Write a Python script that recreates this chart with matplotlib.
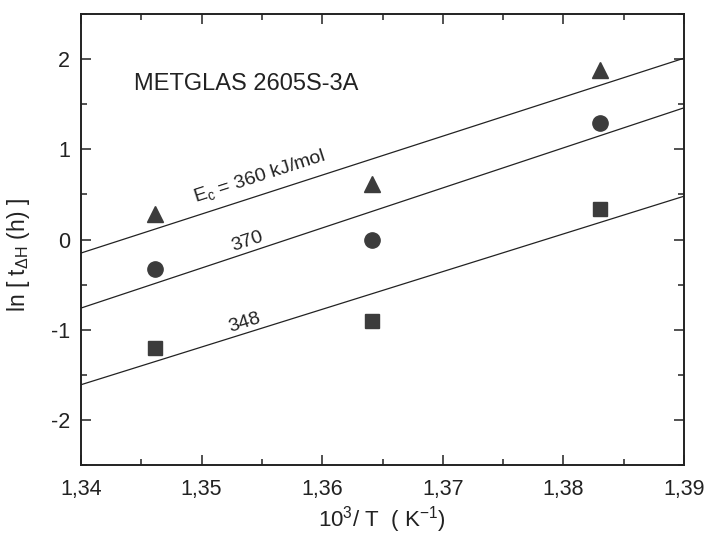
import numpy as np
import matplotlib
matplotlib.use("Agg")
import matplotlib.pyplot as plt
from matplotlib.ticker import MultipleLocator, FuncFormatter

plt.rcParams['font.family'] = ['Liberation Sans', 'DejaVu Sans']
plt.rcParams['mathtext.fontset'] = 'custom'
plt.rcParams['mathtext.rm'] = 'Liberation Sans'
plt.rcParams['mathtext.it'] = 'Liberation Sans'

# data
x_inv_T = [1.3461, 1.3641, 1.3830]
ln_t_triangle = [0.28, 0.61, 1.88]
ln_t_circle = [-0.33, 0.00, 1.29]
ln_t_square = [-1.20, -0.90, 0.34]

fit_x = [1.34, 1.39]
fit_360 = [-0.15, 2.01]
fit_370 = [-0.76, 1.46]
fit_348 = [-1.61, 0.48]

fig = plt.figure(figsize=(7.1, 5.39), dpi=100)
ax = fig.add_axes([81/710, 1-465/539, (684-81)/710, (465-14)/539])

ax.plot(fit_x, fit_360, color='#222222', lw=0.9)
ax.plot(fit_x, fit_370, color='#222222', lw=0.9)
ax.plot(fit_x, fit_348, color='#222222', lw=0.9)

mc = '#3c3c3c'
ax.plot(x_inv_T, ln_t_triangle, '^', ms=12, color=mc, ls='none')
ax.plot(x_inv_T, ln_t_circle, 'o', ms=11, color=mc, ls='none')
ax.plot(x_inv_T, ln_t_square, 's', ms=10, color=mc, ls='none')

ax.set_xlim(1.34, 1.39)
ax.set_ylim(-2.5, 2.5)
ax.xaxis.set_major_locator(MultipleLocator(0.01))
ax.xaxis.set_minor_locator(MultipleLocator(0.005))
ax.yaxis.set_major_locator(MultipleLocator(1))
ax.yaxis.set_minor_locator(MultipleLocator(0.5))
ax.xaxis.set_major_formatter(FuncFormatter(lambda v, p: f"{v:.2f}".replace('.', ',')))
ax.yaxis.set_major_formatter(FuncFormatter(lambda v, p: f"{v:.0f}"))
ax.tick_params(which='both', direction='in', top=True, right=True, labelsize=15.5, colors='#222222', width=1.1)
ax.tick_params(which='major', length=7)
ax.tick_params(axis='x', which='major', pad=10)
ax.tick_params(axis='y', which='major', pad=8)
ax.tick_params(which='minor', length=4)
ax.tick_params(axis='y', which='both', labelright=False)
ax.tick_params(axis='x', labeltop=False)
for s in ax.spines.values():
    s.set_linewidth(1.4)
    s.set_color('#222222')

# angle of lines in display coords
fig.canvas.draw()
def line_angle(ys):
    p0 = ax.transData.transform((fit_x[0], ys[0]))
    p1 = ax.transData.transform((fit_x[1], ys[1]))
    return np.degrees(np.arctan2(p1[1]-p0[1], p1[0]-p0[0]))

ax.text(1.3444, 1.72, 'METGLAS 2605S-3A', fontsize=17, color='#222222', va='center', ha='left')
ax.text(1.3495, 0.41, r'E$_\mathregular{c}$ = 360 kJ/mol', fontsize=14, color='#222222',
        rotation=line_angle(fit_360), rotation_mode='anchor', ha='left', va='baseline')
ax.text(1.3526, -0.13, '370', fontsize=14, color='#222222',
        rotation=line_angle(fit_370), rotation_mode='anchor', ha='left', va='baseline')
ax.text(1.3524, -1.02, '348', fontsize=14, color='#222222',
        rotation=line_angle(fit_348), rotation_mode='anchor', ha='left', va='baseline')

fig.text(382/710, 4/539, r'10$^\mathregular{3}$/ T  ( K$^\mathregular{-1}$)', fontsize=16,
         ha='center', va='bottom', color='#222222')
fig.text(19/710, 1-255/539, r'ln [ t$_\mathregular{\Delta H}$ (h) ]', fontsize=16.5, rotation=90,
         ha='center', va='center', color='#222222')

fig.savefig('out.png', dpi=100)
